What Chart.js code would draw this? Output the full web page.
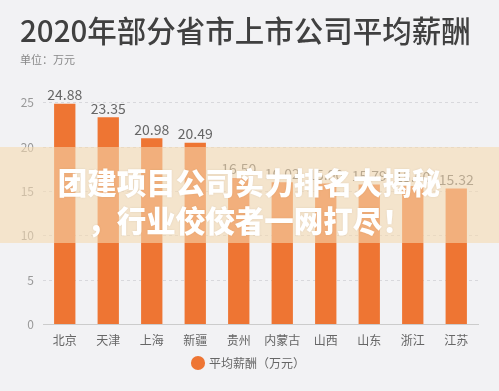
<!DOCTYPE html>
<html>
<head>
<meta charset="utf-8">
<script src="https://cdn.jsdelivr.net/npm/chart.js@4.4.1/dist/chart.umd.min.js"></script>
<style>
    html, body { margin: 0; padding: 0; background: #f2f2f4; }
    #wrap { position: relative; width: 499px; height: 391px; overflow: hidden; }
    #band {
        position: absolute; left: 0; top: 147px; width: 499px; height: 96px;
        background: rgba(244, 217, 176, 0.585);
        font-family: "Noto Sans CJK SC", sans-serif; font-weight: 900; font-size: 29.5px;
        color: #fff; text-align: center; line-height: 38px;
        text-shadow: 0 0 2px rgba(120, 80, 40, 0.15);
        box-sizing: border-box; padding-top: 15px;
    }
</style>
</head>
<body>
<div id="wrap">
    <canvas id="salaryChart" width="499" height="391"></canvas>
    <div id="band">团建项目公司实力排名大揭秘<br>，行业佼佼者一网打尽！</div>
</div>
<script>
// data (middle values are partly hidden by the banner)
const provinces = ['北京', '天津', '上海', '新疆', '贵州', '内蒙古', '山西', '山东', '浙江', '江苏'];
const avgSalary = [24.88, 23.35, 20.98, 20.49, 16.5, 16.02, 15.9, 15.79, 15.6, 15.32];
const yTicks = [0, 5, 10, 15, 20, 25];

const FONT = '"Noto Sans CJK SC", sans-serif';
const barColor = '#ee7533';

// value labels over each bar
const valueLabels = {
    id: 'valueLabels',
    afterDatasetsDraw(chart) {
        const ctx = chart.ctx;
        const meta = chart.getDatasetMeta(0);
        ctx.save();
        ctx.font = '14px ' + FONT;
        ctx.fillStyle = '#666';
        ctx.textAlign = 'center';
        ctx.textBaseline = 'bottom';
        meta.data.forEach((bar, i) => {
            ctx.fillText(avgSalary[i].toFixed(2), bar.x, bar.y - 2);
        });
        ctx.restore();
    }
};

const ctx = document.getElementById('salaryChart').getContext('2d');
new Chart(ctx, {
    type: 'bar',
    data: {
        labels: provinces,
        datasets: [{
            label: '平均薪酬（万元）',
            data: avgSalary,
            backgroundColor: barColor,
            borderWidth: 0,
            categoryPercentage: 1,
            barPercentage: 0.49
        }]
    },
    options: {
        responsive: false,
        animation: false,
        layout: { padding: { left: 20, right: 21, top: 0, bottom: 12 } },
        plugins: {
            title: {
                display: true,
                text: '2020年部分省市上市公司平均薪酬',
                align: 'start',
                color: '#404040',
                font: { family: FONT, size: 29.5, weight: '500' },
                padding: { top: 13, bottom: 3 }
            },
            subtitle: {
                display: true,
                text: '单位：万元',
                align: 'start',
                color: '#888',
                font: { family: FONT, size: 11 },
                padding: { top: 2, bottom: 36 }
            },
            legend: {
                position: 'bottom',
                labels: {
                    usePointStyle: true,
                    pointStyle: 'circle',
                    boxWidth: 10,
                    boxHeight: 10,
                    color: '#666',
                    font: { family: FONT, size: 12 },
                    padding: 8
                }
            },
            tooltip: { enabled: false }
        },
        scales: {
            x: {
                grid: { display: false, drawTicks: true, tickLength: 4, tickColor: '#ccc' },
                border: { color: '#ccc' },
                ticks: { color: '#666', font: { family: FONT, size: 12 }, padding: 5 },
                afterFit(axis) {
                    axis.height -= 4;
                }
            },
            y: {
                min: 0,
                max: 25,
                afterBuildTicks(axis) {
                    axis.ticks = yTicks.map(v => ({ value: v }));
                },
                afterFit(axis) {
                    axis.width = 23;
                },
                grid: { color: '#d8d8dc', drawTicks: false },
                border: { display: false, dash: [3, 3] },
                ticks: { color: '#999', font: { family: FONT, size: 12 }, padding: 9 }
            }
        }
    },
    plugins: [valueLabels]
});
</script>
</body>
</html>
